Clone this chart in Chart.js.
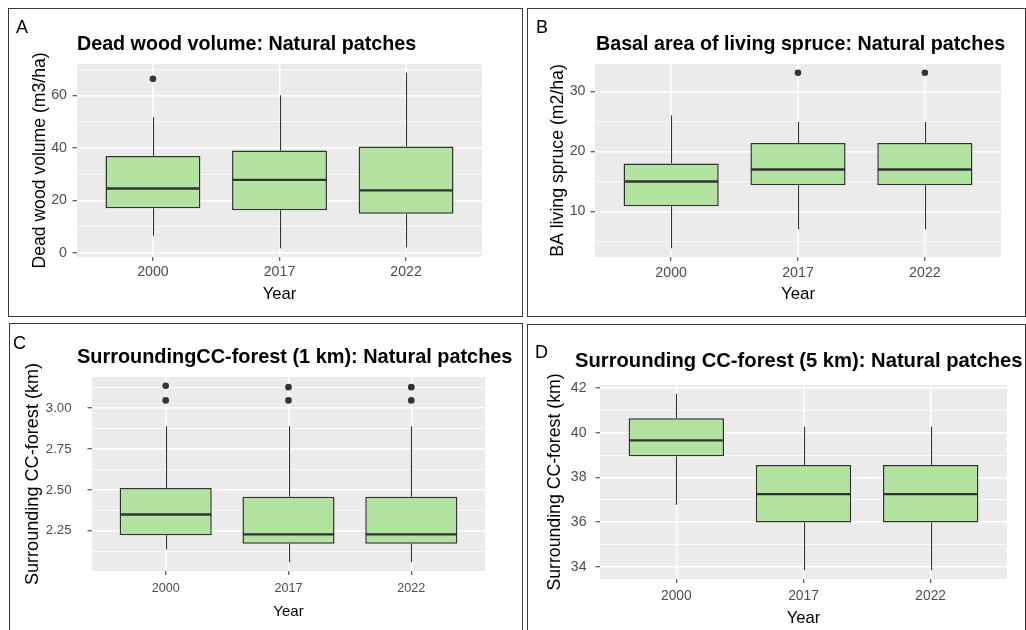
<!DOCTYPE html>
<html>
<head>
<meta charset="utf-8">
<script src="https://cdn.jsdelivr.net/npm/chart.js@4/dist/chart.umd.min.js"></script>
<style>
  body { margin: 0; background: #fff; width: 1026px; height: 630px; overflow: hidden; position: relative;
         font-family: 'Liberation Sans', Arial, sans-serif; }
  .panel { position: absolute; border: 1px solid #3a3a3a; box-sizing: border-box; background: #fff; overflow: hidden; }
  .panel canvas { position: absolute; left: 0; top: 0; }
  .tag { position: absolute; font-size: 18px; line-height: 20px; color: #000; }
</style>
</head>
<body>
<div class="panel" style="left:8px;top:8px;width:515px;height:309px">
  <canvas id="cA" width="512" height="306"></canvas><div class="tag" style="left:7px;top:8px">A</div>
</div>
<div class="panel" style="left:527px;top:8px;width:499px;height:309px">
  <canvas id="cB" width="497" height="306"></canvas><div class="tag" style="left:8px;top:8px">B</div>
</div>
<div class="panel" style="left:9px;top:323px;width:514px;height:320px">
  <canvas id="cC" width="512" height="306"></canvas><div class="tag" style="left:3px;top:9px">C</div>
</div>
<div class="panel" style="left:527px;top:324px;width:499px;height:320px">
  <canvas id="cD" width="497" height="305"></canvas><div class="tag" style="left:7px;top:17px">D</div>
</div>
<script>
const years = ['2000', '2017', '2022'];

// A: dead wood volume (m3/ha)
const deadLow = [6.5, 1.7, 2.1];
const deadQ1 = [17.0, 16.2, 14.9];
const deadMed = [24.5, 27.8, 23.8];
const deadQ3 = [36.9, 39.0, 40.5];
const deadHigh = [51.7, 60.1, 68.7];
const deadOut = [[66.4], [], []];
const deadTicks = [0, 20, 40, 60];
const deadMinor = [10, 30, 50, 70];

// B: basal area of living spruce (m2/ha)
const baLow = [3.9, 7.0, 7.0];
const baQ1 = [10.9, 14.4, 14.4];
const baMed = [15.0, 17.0, 17.0];
const baQ3 = [18.0, 21.4, 21.4];
const baHigh = [26.0, 24.9, 24.9];
const baOut = [[], [33.1], [33.1]];
const baTicks = [10, 20, 30];
const baMinor = [5, 15, 25];

// C: surrounding CC-forest, 1 km (km)
const cc1Low = [2.135, 2.058, 2.058];
const cc1Q1 = [2.222, 2.170, 2.170];
const cc1Med = [2.349, 2.228, 2.228];
const cc1Q3 = [2.512, 2.458, 2.458];
const cc1High = [2.889, 2.889, 2.889];
const cc1Out = [[3.047, 3.136], [3.047, 3.128], [3.047, 3.128]];
const cc1Ticks = [2.25, 2.5, 2.75, 3.0];
const cc1Minor = [2.125, 2.375, 2.625, 2.875, 3.125];

// D: surrounding CC-forest, 5 km (km)
const cc5Low = [36.78, 33.84, 33.84];
const cc5Q1 = [38.95, 35.98, 35.98];
const cc5Med = [39.66, 37.25, 37.25];
const cc5Q3 = [40.65, 38.56, 38.56];
const cc5High = [41.75, 40.27, 40.27];
const cc5Out = [[], [], []];
const cc5Ticks = [34, 36, 38, 40, 42];
const cc5Minor = [35, 37, 39, 41];

const FONT = "'Liberation Sans', Arial, sans-serif";
const BOX_FILL = '#b3e3a0';
const INK = '#333333';

// grey panel behind the grid
const panelBg = {
    id: 'panelBg',
    beforeDraw(chart) {
        const a = chart.chartArea;
        chart.ctx.save();
        chart.ctx.fillStyle = '#ebebeb';
        chart.ctx.fillRect(a.left, a.top, a.right - a.left, a.bottom - a.top);
        chart.ctx.restore();
    }
};

// whiskers under the boxes, medians on top
const boxParts = {
    id: 'boxParts',
    beforeDatasetsDraw(chart) {
        const s = chart.options.plugins.boxParts;
        const x = chart.scales.x, y = chart.scales.y, ctx = chart.ctx;
        ctx.save();
        ctx.strokeStyle = INK;
        ctx.lineWidth = 1.1;
        s.low.forEach((lo, i) => {
            const px = Math.round(x.getPixelForValue(i + 1)) + 0.5;
            ctx.beginPath();
            ctx.moveTo(px, y.getPixelForValue(lo));
            ctx.lineTo(px, y.getPixelForValue(s.q1[i]));
            ctx.moveTo(px, y.getPixelForValue(s.q3[i]));
            ctx.lineTo(px, y.getPixelForValue(s.high[i]));
            ctx.stroke();
        });
        ctx.restore();
    },
    afterDatasetsDraw(chart) {
        const s = chart.options.plugins.boxParts;
        const y = chart.scales.y, ctx = chart.ctx;
        const bars = chart.getDatasetMeta(0).data;
        ctx.save();
        ctx.strokeStyle = INK;
        ctx.lineWidth = 2.4;
        s.med.forEach((m, i) => {
            const b = bars[i];
            const py = y.getPixelForValue(m);
            ctx.beginPath();
            ctx.moveTo(b.x - b.width / 2 + 0.5, py);
            ctx.lineTo(b.x + b.width / 2 - 0.5, py);
            ctx.stroke();
        });
        ctx.restore();
    }
};

// title left-aligned, allowed to run past the panel
const panelTitle = {
    id: 'panelTitle',
    afterDraw(chart) {
        const t = chart.options.plugins.panelTitle;
        const ctx = chart.ctx;
        ctx.save();
        ctx.font = 'bold ' + t.size + 'px ' + FONT;
        ctx.fillStyle = '#000';
        ctx.textBaseline = 'middle';
        ctx.textAlign = 'left';
        ctx.fillText(t.text, t.x, t.y);
        ctx.restore();
    }
};

function near(list, v) {
    return list.some(t => Math.abs(t - v) < 1e-9);
}

function boxChart(id, g, s) {
    const allVals = s.low.concat(s.high, ...s.out);
    const lo = Math.min(...allVals), hi = Math.max(...allVals);
    const pad = (hi - lo) * 0.05;
    const yTicks = s.ticks.concat(s.minor).sort((a, b) => a - b);
    const outliers = [];
    s.out.forEach((arr, i) => arr.forEach(v => outliers.push({ x: i + 1, y: v })));

    const yTitleLH = g.yTitleSize * 1.2;
    const xTitleLH = g.xTitleSize * 1.2;
    const padL = g.yTitleX - yTitleLH / 2;
    const xAxisH = g.xTitleGap + xTitleLH / 2;

    return new Chart(document.getElementById(id), {
        type: 'bar',
        data: {
            datasets: [{
                type: 'bar',
                data: years.map((yr, i) => ({ x: i + 1, y: [s.q1[i], s.q3[i]] })),
                backgroundColor: BOX_FILL,
                borderColor: INK,
                borderWidth: 1.5,
                borderSkipped: false,
                categoryPercentage: 1,
                barPercentage: 0.75
            }, {
                type: 'scatter',
                data: outliers,
                pointRadius: 3.3,
                pointBackgroundColor: INK,
                pointBorderWidth: 0
            }]
        },
        options: {
            responsive: false,
            animation: false,
            events: [],
            layout: {
                padding: {
                    left: padL,
                    top: g.area.t,
                    right: g.w - g.area.r,
                    bottom: g.h - g.area.b - xAxisH
                }
            },
            plugins: {
                legend: { display: false },
                tooltip: { enabled: false },
                title: { display: false },
                boxParts: s,
                panelTitle: { text: g.title, size: g.titleSize, x: g.titleX, y: g.titleY }
            },
            scales: {
                x: {
                    type: 'linear',
                    min: 0.4,
                    max: 3.6,
                    offset: false,
                    afterBuildTicks: sc => { sc.ticks = years.map((yr, i) => ({ value: i + 1 })); },
                    afterFit: sc => { sc.height = xAxisH; },
                    border: { display: false },
                    grid: { color: '#ffffff', lineWidth: 1.5, offset: false, tickColor: INK, tickLength: 4, tickWidth: 1 },
                    ticks: {
                        autoSkip: false,
                        maxRotation: 0,
                        padding: g.xTickPad,
                        color: '#4d4d4d',
                        font: { family: FONT, size: g.tickSize },
                        callback: v => years[Math.round(v) - 1] || ''
                    },
                    title: { display: true, text: 'Year', color: '#000', padding: 0, font: { family: FONT, size: g.xTitleSize } }
                },
                y: {
                    min: lo - pad,
                    max: hi + pad,
                    afterBuildTicks: sc => { sc.ticks = yTicks.map(v => ({ value: v })); },
                    afterFit: sc => { sc.width = g.area.l - padL; },
                    border: { display: false },
                    grid: {
                        color: '#ffffff',
                        lineWidth: c => near(s.ticks, c.tick.value) ? 1.5 : 0.7,
                        tickColor: c => near(s.ticks, c.tick.value) ? INK : 'rgba(0,0,0,0)',
                        tickLength: 4.5,
                        tickWidth: 1
                    },
                    ticks: {
                        autoSkip: false,
                        padding: g.yTickPad,
                        color: '#4d4d4d',
                        font: { family: FONT, size: g.yTickSize },
                        callback: v => near(s.ticks, v) ? (g.decimals ? v.toFixed(g.decimals) : String(v)) : ''
                    },
                    title: { display: true, text: g.yTitle, color: '#000', padding: 0, font: { family: FONT, size: g.yTitleSize } }
                }
            }
        },
        plugins: [panelBg, boxParts, panelTitle]
    });
}

boxChart('cA', {
    w: 512, h: 306, area: { l: 68, r: 473, t: 55, b: 248 },
    title: 'Dead wood volume: Natural patches', titleSize: 19.7, titleX: 68, titleY: 36,
    yTitle: 'Dead wood volume (m3/ha)', yTitleSize: 17.6, yTitleX: 31,
    xTitleSize: 16.6, xTitleGap: 37,
    tickSize: 14.2, yTickSize: 14.2, xTickPad: 2.5, yTickPad: 5.5, decimals: 0
}, { low: deadLow, q1: deadQ1, med: deadMed, q3: deadQ3, high: deadHigh, out: deadOut, ticks: deadTicks, minor: deadMinor });

boxChart('cB', {
    w: 497, h: 306, area: { l: 67, r: 473, t: 55, b: 248 },
    title: 'Basal area of living spruce: Natural patches', titleSize: 19.7, titleX: 68, titleY: 36,
    yTitle: 'BA living spruce (m2/ha)', yTitleSize: 17.7, yTitleX: 30,
    xTitleSize: 16.9, xTitleGap: 37,
    tickSize: 14.2, yTickSize: 14.2, xTickPad: 3.2, yTickPad: 5, decimals: 0
}, { low: baLow, q1: baQ1, med: baMed, q3: baQ3, high: baHigh, out: baOut, ticks: baTicks, minor: baMinor });

boxChart('cC', {
    w: 512, h: 306, area: { l: 82, r: 475, t: 53, b: 247 },
    title: 'SurroundingCC-forest (1 km): Natural patches', titleSize: 19.9, titleX: 67, titleY: 33.7,
    yTitle: 'Surrounding CC-forest (km)', yTitleSize: 18.1, yTitleX: 23,
    xTitleSize: 15, xTitleGap: 40.7,
    tickSize: 12.6, yTickSize: 13.2, xTickPad: 5.7, yTickPad: 16, decimals: 2
}, { low: cc1Low, q1: cc1Q1, med: cc1Med, q3: cc1Q3, high: cc1High, out: cc1Out, ticks: cc1Ticks, minor: cc1Minor });

boxChart('cD', {
    w: 497, h: 305, area: { l: 72, r: 479, t: 60, b: 254 },
    title: 'Surrounding CC-forest (5 km): Natural patches', titleSize: 20.2, titleX: 47, titleY: 36.7,
    yTitle: 'Surrounding CC-forest (km)', yTitleSize: 17.7, yTitleX: 27,
    xTitleSize: 16.6, xTitleGap: 39.3,
    tickSize: 13.8, yTickSize: 14.1, xTickPad: 5.4, yTickPad: 9, decimals: 0
}, { low: cc5Low, q1: cc5Q1, med: cc5Med, q3: cc5Q3, high: cc5High, out: cc5Out, ticks: cc5Ticks, minor: cc5Minor });
</script>
</body>
</html>
